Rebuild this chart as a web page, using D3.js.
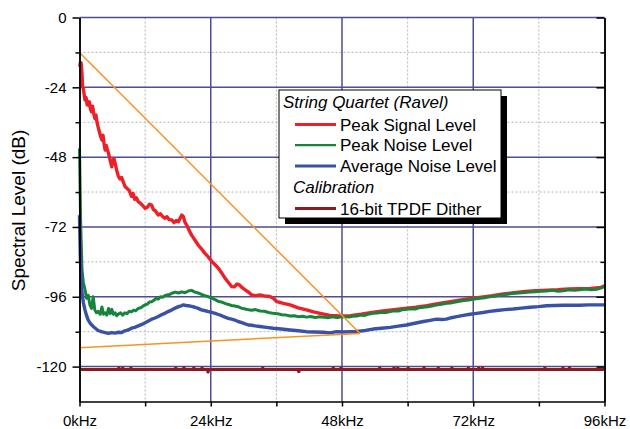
<!DOCTYPE html>
<html>
<head>
<meta charset="utf-8">
<script src="https://cdn.jsdelivr.net/npm/d3@7"></script>
<style>
  body { margin: 0; background: #fff; }
  text { font-family: "Liberation Sans", Arial, sans-serif; fill: #000; }
</style>
</head>
<body>
<div id="chart"></div>
<script>
// ---- data: [kHz, dB] ----
const peakSignal = [
  [0.05,-17],[0.15,-15.5],[0.3,-15.6],[0.45,-19],[0.55,-23.5],[0.75,-25],[1.0,-28.4],[1.2,-27.5],
  [1.4,-30],[1.6,-30.1],[1.8,-29],[2.0,-31.5],[2.2,-32.4],[2.4,-30.5],[2.6,-33],[2.8,-34.7],
  [3.0,-33.5],[3.2,-36],[3.4,-37.6],[3.6,-39],[3.8,-40.5],[4.1,-42.1],[4.3,-40.5],[4.5,-43.5],
  [4.7,-45.6],[4.9,-44],[5.1,-45.5],[5.3,-46.6],[5.6,-49],[5.9,-51.3],[6.1,-49],[6.3,-48.5],
  [6.5,-50],[6.8,-52.5],[7.1,-54.5],[7.4,-55.5],[7.7,-55],[8.0,-56.5],[8.3,-58],[8.7,-58.8],
  [9.1,-59.5],[9.5,-61.5],[9.8,-60.5],[10.1,-62.5],[10.4,-62],[10.75,-63.3],[11.1,-63.8],[11.5,-64.5],
  [12.0,-65.6],[12.4,-65.2],[12.8,-64.2],[13.2,-64.5],[13.5,-66],[13.9,-66.5],[14.4,-67.9],[14.8,-67.5],
  [15.2,-68.4],[15.6,-69],[16.0,-68.5],[16.4,-69.5],[16.9,-69.6],[17.3,-70.5],[17.7,-69.8],[18.1,-70.2],
  [18.4,-69],[18.7,-67.9],[19.0,-68.5],[19.3,-70.5],[19.6,-71.3],[20.0,-73],[20.5,-74.8],[21.1,-76.5],
  [21.7,-78.2],[22.3,-79.5],[22.9,-81],[23.5,-82.2],[24.2,-83.9],[24.8,-85],[25.4,-86.2],[26.0,-87.8],
  [26.6,-89.6],[27.2,-91],[27.8,-92.5],[28.3,-92.6],[28.8,-91.6],[29.2,-91.9],[29.7,-92.8],[30.3,-93.6],
  [30.9,-94.4],[31.5,-95.4],[32.2,-95.6],[33.0,-95.4],[33.8,-95.7],[34.8,-95.9],[35.5,-96.6],[36.1,-97.7],
  [37.3,-98.3],[38.5,-98.8],[40.0,-99.8],[41.5,-100.5],[42.8,-101.2],[44.0,-101.7],[45.8,-102.4],[47.6,-102.6],
  [49.5,-102.5],[51.5,-102.0],[53.5,-101.4],[55.5,-100.9],[57.5,-100.4],[59.5,-100],[61.5,-99.6],[63.5,-99.1],
  [65.5,-98.4],[67.5,-97.8],[69.5,-97.2],[71.5,-96.6],[73.5,-96.1],[75.5,-95.6],[77.5,-95],[79.5,-94.6],
  [81.5,-94.2],[83.5,-93.9],[85.5,-93.7],[87.5,-93.6],[89.5,-93.3],[91.5,-93.2],[93.5,-93.1],[95.3,-92.8],[96,-92.2]
];

const peakNoise = [
  [0,-45],[0.2,-70],[0.46,-86.8],[0.7,-91],[1.0,-93.5],[1.3,-96.5],[1.6,-95.5],[1.9,-98.8],
  [2.2,-100],[2.5,-96],[2.8,-100.5],[3.1,-101.5],[3.4,-101],[3.8,-102],[4.1,-99.5],[4.4,-102],
  [4.7,-101.5],[5.0,-102.3],[5.3,-100],[5.6,-101.8],[5.9,-100.3],[6.2,-102],[6.5,-101.5],[6.8,-102.5],
  [7.1,-102],[7.5,-101.5],[7.9,-102.3],[8.3,-101.5],[8.7,-101.8],[9.1,-101],[9.5,-101.2],[9.9,-100.6],
  [10.3,-100.8],[10.75,-100],[11.2,-99.8],[11.6,-99.2],[12.0,-98.8],[12.4,-98.5],[12.8,-97.8],[13.2,-97.7],
  [13.6,-97.2],[14.0,-96.6],[14.4,-96.8],[14.8,-96],[15.2,-96.2],[15.6,-95.6],[16.0,-95.4],[16.5,-95.2],
  [16.9,-94.8],[17.5,-94.4],[18.1,-94.7],[18.7,-94.3],[19.3,-94.6],[19.9,-94.0],[20.5,-93.8],[21.1,-94.4],
  [21.7,-94.7],[22.3,-95.2],[22.9,-95.6],[23.6,-96],[24.2,-96.5],[24.8,-97],[25.4,-97.6],[26.0,-97.8],
  [26.6,-98.3],[27.2,-98.6],[27.8,-99],[28.4,-99.2],[29.0,-99.4],[29.6,-99.9],[30.3,-100.2],[30.9,-100.5],
  [31.5,-100.6],[32.2,-100.4],[33.0,-100.9],[33.8,-101],[34.6,-101.4],[35.4,-101.7],[36.2,-101.8],[37.0,-102.2],
  [37.8,-102.3],[38.5,-102.6],[39.3,-102.5],[40.1,-102.9],[40.8,-102.7],[41.5,-103],[42.3,-102.8],[43.1,-103.1],
  [43.9,-102.9],[44.6,-103],[45.4,-103.2],[46.2,-102.9],[47.0,-103.1],[47.6,-103],[48.4,-102.8],[49.2,-103],
  [49.9,-102.7],[50.7,-102.6],[51.5,-102.3],[52.2,-102.4],[53.0,-101.9],[53.7,-101.7],[54.5,-101.6],[55.3,-101.3],
  [56.0,-101.4],[56.8,-101.1],[57.5,-100.8],[58.3,-100.9],[59.0,-100.5],[59.8,-100.3],[60.6,-100.1],[61.4,-100.2],
  [62.1,-99.8],[62.9,-99.6],[63.7,-99.4],[64.5,-99.2],[65.3,-98.8],[66.2,-98.6],[67.1,-98.2],[68.0,-98.1],
  [69.0,-97.7],[70.2,-97.3],[71.2,-97.1],[72.2,-96.8],[73.2,-96.5],[74.2,-96.3],[75.3,-95.9],[76.3,-95.7],
  [77.3,-95.3],[78.3,-95.1],[79.3,-94.8],[80.3,-94.7],[81.4,-94.5],[82.4,-94.4],[83.4,-94.3],[84.4,-94.1],
  [85.4,-94],[86.5,-93.8],[87.5,-94.1],[88.5,-93.9],[89.5,-93.6],[90.5,-93.8],[91.5,-93.6],[92.5,-93.3],
  [93.6,-93.6],[94.6,-93.4],[95.3,-93],[96,-92.5]
];

const averageNoise = [
  [0,-68],[0.15,-82],[0.4,-93.6],[0.7,-98],[1.0,-100.5],[1.3,-102.5],[1.6,-104],[2.0,-105.2],
  [2.5,-106.2],[3.0,-107],[3.4,-107.6],[4.0,-108],[4.7,-108.3],[5.3,-108.6],[5.9,-108.3],[6.5,-108.5],
  [7.1,-108.2],[7.7,-108.3],[8.3,-107.7],[8.9,-107.4],[9.5,-106.8],[10.1,-106.5],[10.75,-106],[11.4,-105.5],
  [12.0,-104.9],[12.6,-104.3],[13.2,-103.7],[13.8,-103.3],[14.4,-102.8],[15.0,-102.2],[15.6,-101.7],[16.2,-101.1],
  [16.9,-100.5],[17.5,-99.9],[18.1,-99.4],[18.6,-99.1],[19.0,-98.8],[19.5,-99],[19.9,-99.1],[20.5,-99.3],
  [21.1,-99.6],[21.7,-100],[22.3,-100.5],[23.0,-100.8],[23.6,-101.1],[24.2,-101.4],[24.8,-101.7],[25.4,-102.1],
  [26.0,-102.5],[26.6,-103],[27.2,-103.4],[27.8,-103.7],[28.4,-104],[29.0,-104.5],[29.7,-104.9],[30.3,-105.3],
  [30.9,-105.7],[31.5,-105.8],[32.1,-106],[33.0,-106.2],[34.2,-106.5],[35.4,-106.8],[36.9,-107.1],[38.5,-107.4],
  [40.0,-107.7],[41.5,-108],[43.0,-108.1],[44.6,-108.2],[45.8,-108.4],[47.0,-108],[48.2,-108.1],[49.5,-108],
  [50.7,-107.9],[51.9,-107.7],[52.8,-107.4],[53.7,-107.1],[55.2,-106.8],[56.8,-106.5],[58.3,-106.1],[59.8,-105.7],
  [61.3,-105.1],[62.9,-104.5],[64.1,-104.1],[65.3,-103.7],[66.2,-103.8],[67.1,-103.7],[68.0,-103.2],[69.0,-102.8],
  [70.2,-102.4],[71.4,-102],[72.6,-101.7],[73.8,-101.4],[75.0,-101],[76.3,-100.7],[77.8,-100.4],[79.3,-100.2],
  [80.8,-99.9],[82.4,-99.6],[83.9,-99.4],[85.4,-99.1],[86.9,-99],[88.5,-98.9],[90.0,-98.9],[91.5,-98.9],
  [93.0,-98.8],[94.6,-98.8],[96,-98.8]
];

// calibration: flat dither floor plus the few peaks that stick out of it
const tpdfDither = [[0,-121],[96,-121]];
const tpdfPeaks = [
  [7.2,-120.6],[7.9,-120.6],[9.4,-120.6],[17.6,-120.6],[19.1,-120.5],[20.9,-120.6],[22.4,-120.6],
  [23.5,-121.8],[33.5,-120.6],[40.1,-121.7],[46.4,-120.6],[47.8,-120.6],[54.9,-120.6],[57.5,-120.6],
  [58.2,-120.6],[60.1,-120.6],[63.0,-120.5],[65.6,-120.6],[68.1,-120.6],[71.1,-120.6],[73.0,-120.6],
  [73.7,-120.5],[85.1,-120.6],[88.4,-120.6],[89.6,-120.5]
];

// orange guide lines meeting near 51 kHz
const guideUpper = [[0,-12],[51.3,-108.6]];
const guideLower = [[0,-113.5],[51.3,-108.6]];

// axis ticks
const yMajor = [0, -24, -48, -72, -96, -120];
const yMinor = [-12, -36, -60, -84, -108];
const xMajor = [0, 24, 48, 72, 96];
const xMinor = [12, 36, 60, 84];

const legendGroup1 = "String Quartet (Ravel)";
const legendItems1 = ["Peak Signal Level", "Peak Noise Level", "Average Noise Level"];
const legendGroup2 = "Calibration";
const legendItems2 = ["16-bit TPDF Dither"];

// ---- layout ----
const margin = { top: 17.5, right: 25.5, bottom: 27.5, left: 79.5 };
const width = 630 - margin.left - margin.right;
const height = 429 - margin.top - margin.bottom;

const colRed = "#ed2028", colGreen = "#17843c", colBlue = "#3a52a5",
      colDither = "#8c1a1e", colOrange = "#f7941d", colGrid = "#4d4d93";

const root = d3.select("#chart")
  .append("svg")
  .attr("width", 630)
  .attr("height", 429);

const svg = root.append("g")
  .attr("transform", "translate(" + margin.left + "," + margin.top + ")");

const x = d3.scaleLinear().domain([0, 96]).range([0, width]);
const y = d3.scaleLinear().domain([-132, 0]).range([height, 0]);

// minor grid (dotted)
svg.selectAll(".hminor").data(yMinor).enter().append("line")
  .attr("x1", 0).attr("x2", width)
  .attr("y1", d => y(d)).attr("y2", d => y(d))
  .attr("stroke", "#b5b5b5").attr("stroke-dasharray", "2,2");
svg.selectAll(".vminor").data(xMinor).enter().append("line")
  .attr("y1", 0).attr("y2", height)
  .attr("x1", d => x(d)).attr("x2", d => x(d))
  .attr("stroke", "#b5b5b5").attr("stroke-dasharray", "2,2");

// major grid (navy)
svg.selectAll(".hmajor").data(yMajor).enter().append("line")
  .attr("x1", 0).attr("x2", width)
  .attr("y1", d => y(d)).attr("y2", d => y(d))
  .attr("stroke", colGrid).attr("stroke-width", 1.5);
svg.selectAll(".vmajor").data(xMajor.slice(1, -1)).enter().append("line")
  .attr("y1", 0).attr("y2", height)
  .attr("x1", d => x(d)).attr("x2", d => x(d))
  .attr("stroke", colGrid).attr("stroke-width", 1.5);

// curves
const line = d3.line().x(d => x(d[0])).y(d => y(d[1]));

function drawCurve(data, color, w) {
  svg.append("path")
    .datum(data)
    .attr("d", line)
    .attr("fill", "none")
    .attr("stroke", color)
    .attr("stroke-width", w)
    .attr("stroke-linejoin", "round");
}
drawCurve(peakSignal, colRed, 3.4);
drawCurve(peakNoise, colGreen, 3);
drawCurve(averageNoise, colBlue, 3.4);
drawCurve(tpdfDither, colDither, 3);

svg.selectAll(".peak").data(tpdfPeaks).enter().append("circle")
  .attr("cx", d => x(d[0])).attr("cy", d => y(d[1]))
  .attr("r", 1.8).attr("fill", colDither);

drawCurve(guideUpper, colOrange, 1.5);
drawCurve(guideLower, colOrange, 1.5);

// axes
function styleAxis(g) {
  g.selectAll("path, line").attr("stroke", "#000").attr("stroke-width", 1.5);
  g.selectAll("text").style("font-size", "15px").attr("fill", "#000");
}

// plain hyphen for negatives, like the original
svg.append("g")
  .call(d3.axisLeft(y).tickValues(yMajor).tickSize(7).tickPadding(6).tickSizeOuter(0)
    .tickFormat(d => String(d)))
  .call(styleAxis)
  .attr("font-family", null);
svg.append("g")
  .call(d3.axisLeft(y).tickValues(yMinor).tickSize(4).tickFormat("").tickSizeOuter(0))
  .call(styleAxis);

// right axis, ticks pointing inward
svg.append("g")
  .attr("transform", "translate(" + width + ",0)")
  .call(d3.axisLeft(y).tickValues(yMajor).tickSize(8).tickFormat("").tickSizeOuter(0))
  .call(styleAxis);
svg.append("g")
  .attr("transform", "translate(" + width + ",0)")
  .call(d3.axisLeft(y).tickValues(yMinor).tickSize(4).tickFormat("").tickSizeOuter(0))
  .call(styleAxis);

svg.append("g")
  .attr("transform", "translate(0," + height + ")")
  .call(d3.axisBottom(x).tickValues(xMajor.concat(xMinor)).tickSize(5).tickPadding(9)
    .tickFormat(d => xMajor.includes(d) ? d + "kHz" : "").tickSizeOuter(0))
  .call(styleAxis)
  .attr("font-family", null);

// y axis title
root.append("text")
  .attr("transform", "translate(24.5,210.5) rotate(-90)")
  .attr("text-anchor", "middle")
  .style("font-size", "19px")
  .text("Spectral Level (dB)");

// ---- legend ----
const lg = root.append("g").attr("transform", "translate(279,90)");
lg.append("rect").attr("x", 6).attr("y", 6).attr("width", 222).attr("height", 128).attr("fill", "#000");
lg.append("rect").attr("x", 0).attr("y", 0).attr("width", 222).attr("height", 128)
  .attr("fill", "#fff").attr("stroke", "#000").attr("stroke-width", 1);

lg.append("text").attr("x", 4).attr("y", 18).style("font-size", "17px")
  .style("font-style", "italic").text(legendGroup1);

const colors1 = [colRed, colGreen, colBlue];
const widths1 = [3, 2.2, 3];
legendItems1.forEach(function(name, i) {
  const yy = 34.5 + i * 20.7;
  lg.append("line").attr("x1", 16).attr("x2", 57).attr("y1", yy).attr("y2", yy)
    .attr("stroke", colors1[i]).attr("stroke-width", widths1[i]);
  lg.append("text").attr("x", 61).attr("y", yy + 6).style("font-size", "17px").text(name);
});

lg.append("text").attr("x", 14).attr("y", 103).style("font-size", "17px")
  .style("font-style", "italic").text(legendGroup2);

legendItems2.forEach(function(name, i) {
  const yy = 118.5 + i * 20.7;
  lg.append("line").attr("x1", 16).attr("x2", 57).attr("y1", yy).attr("y2", yy)
    .attr("stroke", colDither).attr("stroke-width", 3);
  lg.append("text").attr("x", 61).attr("y", yy + 6).style("font-size", "17px").text(name);
});
</script>
</body>
</html>
